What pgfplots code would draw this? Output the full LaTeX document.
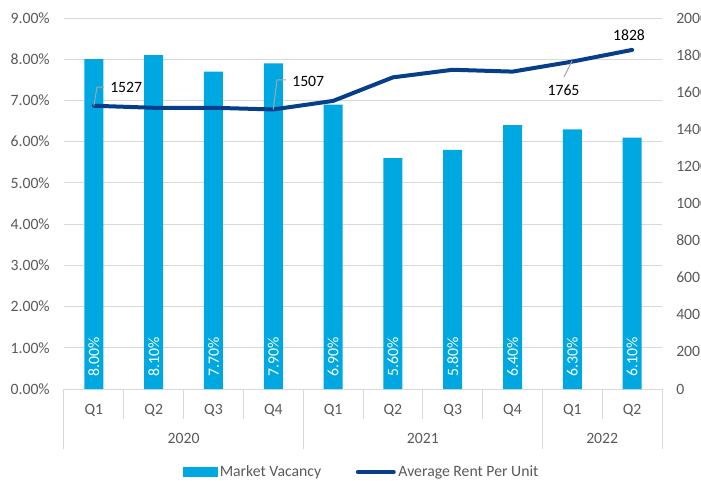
\documentclass[border=0pt]{standalone}
\usepackage{pgfplots}
\pgfplotsset{compat=1.18}
\usepackage{fontspec}
\setmainfont{Carlito}
\definecolor{barblue}{RGB}{0,168,225}
\definecolor{lineblue}{RGB}{6,62,140}
\definecolor{ticktxt}{RGB}{89,89,89}
\definecolor{gridc}{RGB}{217,217,217}
\definecolor{leader}{RGB}{166,166,166}
\newcommand{\lblfont}{\fontsize{11.8}{14}\selectfont}
\begin{document}
\begin{tikzpicture}[x=0.75pt,y=0.75pt]
\useasboundingbox (0,0) rectangle (701,480);
\begin{axis}[
  at={(48pt,68.25pt)}, anchor=south west,
  scale only axis, width=448.5pt, height=278.25pt,
  xmin=-0.5, xmax=9.5, ymin=0, ymax=9,
  clip=false,
  axis x line*=bottom, axis y line*=left,
  y axis line style={draw=none},
  x axis line style={gridc, line width=0.75pt},
  ymajorgrids, grid style={gridc, line width=0.75pt},
  major tick length=0pt,
  ytick={0,1,...,9},
  yticklabels={0.00\%,1.00\%,2.00\%,3.00\%,4.00\%,5.00\%,6.00\%,7.00\%,8.00\%,9.00\%},
  yticklabel style={text=ticktxt, anchor=east, inner sep=0pt, xshift=-10.5pt, font=\lblfont},
  xtick={0,...,9},
  xticklabels={Q1,Q2,Q3,Q4,Q1,Q2,Q3,Q4,Q1,Q2},
  xticklabel style={text=ticktxt, anchor=center, inner sep=0pt, yshift=-15.75pt, font=\lblfont},
]
\addplot[ybar, bar width=14.25pt, fill=barblue, draw=none]
  coordinates {(0,8.0)(1,8.1)(2,7.7)(3,7.9)(4,6.9)(5,5.6)(6,5.8)(7,6.4)(8,6.3)(9,6.1)};
\addplot[draw=none, mark=none, nodes near coords, point meta=explicit symbolic,
  nodes near coords style={rotate=90, anchor=west, inner sep=0pt, text=white, font=\lblfont}]
  coordinates {(0,0.29)[8.00\%] (1,0.29)[8.10\%] (2,0.29)[7.70\%] (3,0.29)[7.90\%]
               (4,0.29)[6.90\%] (5,0.29)[5.60\%] (6,0.29)[5.80\%] (7,0.29)[6.40\%]
               (8,0.29)[6.30\%] (9,0.29)[6.10\%]};
\pgfplotsinvokeforeach{0.5,1.5,2.5,4.5,5.5,6.5,8.5}{
  \draw[gridc, line width=0.75pt] (axis cs:#1,0) -- ++(0pt,-22.5pt);
}
\pgfplotsinvokeforeach{-0.5,3.5,7.5,9.5}{
  \draw[gridc, line width=0.75pt] (axis cs:#1,0) -- ++(0pt,-45pt);
}
\node[text=ticktxt, font=\lblfont, yshift=-36.75pt] at (axis cs:1.5,0) {2020};
\node[text=ticktxt, font=\lblfont, yshift=-36.75pt] at (axis cs:5.5,0) {2021};
\node[text=ticktxt, font=\lblfont, yshift=-36.75pt] at (axis cs:8.5,0) {2022};
\end{axis}
\begin{axis}[
  at={(48pt,68.25pt)}, anchor=south west,
  scale only axis, width=448.5pt, height=278.25pt,
  xmin=-0.5, xmax=9.5, ymin=0, ymax=2000,
  clip=false,
  axis x line=none, axis y line*=right,
  y axis line style={draw=none},
  major tick length=0pt,
  ytick={0,200,...,2000},
  /pgf/number format/1000 sep={},
  /pgf/number format/assume math mode=true,
  yticklabel style={text=ticktxt, anchor=west, inner sep=0pt, xshift=10.5pt, font=\lblfont},
  legend columns=2,
  legend style={draw=none, fill=none, at={(0.498,-0.224)}, anchor=center,
    font=\lblfont, text=ticktxt, inner sep=0pt,
    /tikz/every even column/.append style={column sep=24pt},
    nodes={inner sep=2pt}},
  legend cell align=left,
]
\addlegendimage{legend image code/.code={\fill[barblue] (0pt,-3.4pt) rectangle (25.5pt,3.4pt);}}
\addlegendentry{Market Vacancy}
\addplot[lineblue, line width=3pt, mark=none, line cap=round, line join=round,
  legend image code/.code={\draw[lineblue, line width=3pt] (0pt,0pt) -- (27pt,0pt);}]
  coordinates {(0,1527)(1,1516)(2,1516)(3,1507)(4,1553)(5,1680)(6,1721)(7,1711)(8,1765)(9,1828)};
\addlegendentry{Average Rent Per Unit}
\draw[leader, line width=0.75pt] (axis cs:0,1527) -- (axis cs:0.052,1628) -- (axis cs:0.169,1628);
\node[anchor=west, inner sep=0pt, font=\lblfont] at (axis cs:0.269,1623) {1527};
\draw[leader, line width=0.75pt] (axis cs:3,1507) -- (axis cs:3.062,1666) -- (axis cs:3.212,1666);
\node[anchor=west, inner sep=0pt, font=\lblfont] at (axis cs:3.313,1660) {1507};
\draw[leader, line width=0.75pt] (axis cs:7.995,1768) -- (axis cs:7.861,1682);
\node[inner sep=0pt, font=\lblfont] at (axis cs:7.853,1612) {1765};
\node[inner sep=0pt, font=\lblfont] at (axis cs:8.948,1908) {1828};
\end{axis}
\end{tikzpicture}
\end{document}
